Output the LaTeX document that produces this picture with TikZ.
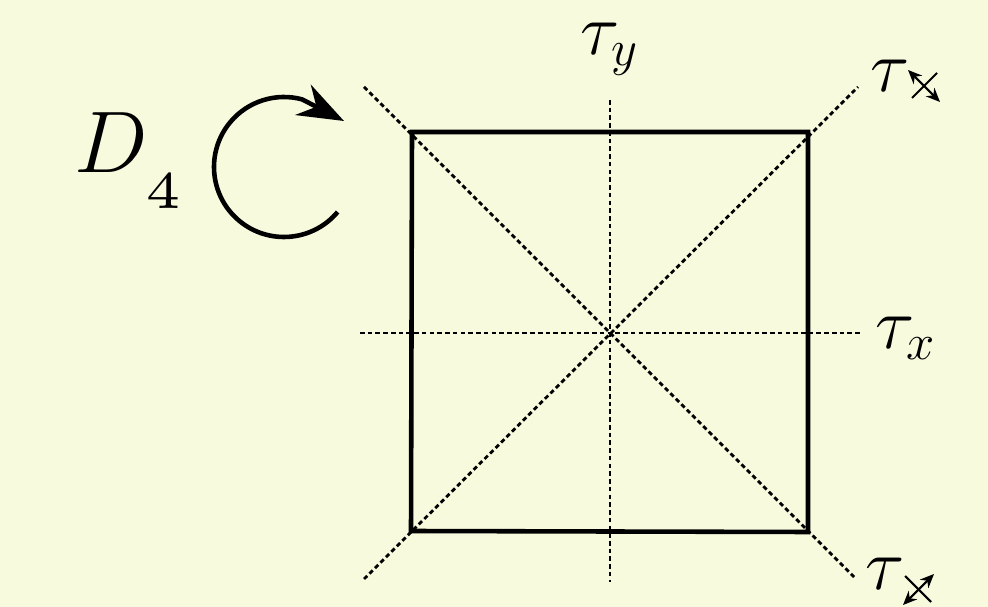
\documentclass[tikz,border=0pt]{standalone}
\usepackage{tikz}
\usetikzlibrary{arrows.meta, calc}
\usepackage{amsmath}
\definecolor{paper}{RGB}{247,250,221}
\font\subdigit=cmr5 at 15pt

\begin{document}
\begin{tikzpicture}[x=0.01cm, y=-0.01cm,
  sq/.style={draw, line width=1.3pt, line join=miter},
  axis/.style={draw, line width=0.8pt, dash pattern=on 1.3pt off 0.9pt},
  lab/.style={font=\huge, inner sep=0pt},
  rot/.style={line width=1.3pt, -{Stealth[length=4.6mm, width=3.4mm, inset=1.5mm]}},
  flip/.style={line width=0.6pt, {Stealth[length=1.4mm, width=1.2mm]}-{Stealth[length=1.4mm, width=1.2mm]}},
  plain/.style={line width=0.6pt}]
  % background and page size
  \fill[paper] (0,0) rectangle (988,607);
  \useasboundingbox (0,0) rectangle (988,607);

  % the square and its symmetry axes
  \coordinate (c) at (610,333);
  \coordinate (nw) at (412,132);
  \coordinate (ne) at (808,132);
  \coordinate (se) at (808,532);
  \coordinate (sw) at (411,531);
  \draw[axis] (610,100) -- (610,582);
  \draw[axis] (360,333) -- (862,333);
  \draw[axis] (364,87) -- (856,579);
  \draw[axis] (364,579) -- (858,87);
  \draw[sq] (nw) -- (ne) -- (se) -- (sw) -- cycle;

  % labels
  \node[lab] (ty) at (610,49) {$\tau_y$};
  \node[lab] (tx) at (906,338) {$\tau_x$};
  \node[lab] (tne) at (890,76) {$\tau$};
  \node[lab] (tse) at (885,574) {$\tau$};
  \node[lab, font=\fontsize{24}{28}\selectfont, anchor=base west] (grp) at (74,173)
    {$D_{\raisebox{-6.5pt}{\subdigit 4}}$};

  % diagonal subscripts
  \begin{scope}[shift={(924,86)}]
    \draw[flip] (-16,-16) -- (16,16);
    \draw[plain] (13,-13) -- (-12,12);
  \end{scope}
  \begin{scope}[shift={(918,589)}]
    \draw[flip] (-15,16) -- (16,-15);
    \draw[plain] (-13,-13) -- (13,13);
  \end{scope}

  % rotation arrow
  \coordinate (rc) at (284,167);
  \draw[rot] ($(rc)+(40:70)$) arc[start angle=40, end angle=285, radius=70] -- (344,121);
\end{tikzpicture}
\end{document}
